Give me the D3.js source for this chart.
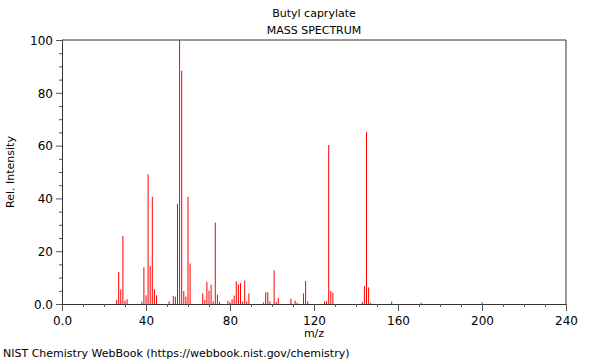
<!DOCTYPE html>
<html lang="en">
<head>
<meta charset="utf-8">
<title>Butyl caprylate</title>
<script src="https://cdn.jsdelivr.net/npm/d3@7"></script>
<style>
  body { margin: 0; background: #fff; }
  svg text { font-family: "DejaVu Sans", sans-serif; fill: #000; }
</style>
</head>
<body>
<div id="chart"></div>
<script>
const W = 600, H = 360;

// peak list
const mz = [26, 27, 28, 29, 30, 31, 38, 39, 40, 41, 42, 43, 44, 45, 51, 53, 54, 55, 56, 57, 58, 59, 60, 61,
  67, 68, 69, 70, 71, 72, 73, 74, 75, 79, 80, 81, 82, 83, 84, 85, 86, 87, 88, 89,
  96, 97, 98, 99, 101, 102, 103, 109, 111, 112, 115, 116, 117, 125, 126, 127, 128, 129,
  143, 144, 145, 146, 147, 157, 171, 200];
const intensity = [1.5, 12.1, 5.5, 25.8, 1.3, 1.8, 0.9, 13.9, 3.3, 49.1, 14.4, 40.6, 5.5, 3.3, 1, 3, 2.8, 37.9, 100, 88.3, 4.9, 2.8, 40.6, 15.3,
  4, 1.5, 8.4, 5, 7.3, 1, 30.8, 3.5, 0.8, 1.2, 0.7, 1.8, 3.2, 8.6, 7.4, 7.9, 1, 8.9, 1, 4,
  0.6, 4.4, 4.5, 1, 12.8, 0.8, 2.3, 2, 1.3, 0.5, 4, 8.7, 1, 1, 1, 60.2, 5, 4.3,
  0.8, 6.8, 65.2, 6.3, 0.5, 0.9, 0.5, 0.7];

const xTicks = [0, 40, 80, 120, 160, 200, 240];
const yTicks = [0, 20, 40, 60, 80, 100];

const margin = {left: 62, right: 34, top: 40, bottom: 56};

const svg = d3.select("#chart").append("svg")
  .attr("width", W).attr("height", H);

const x = d3.scaleLinear().domain([0, 240]).range([margin.left, W - margin.right]);
const y = d3.scaleLinear().domain([0, 100]).range([H - margin.bottom, margin.top]);

const fmt = d => d === 0 ? "0.0" : String(d);

// frame (top + right)
svg.append("path")
  .attr("d", `M${x(0)},${y(100)}H${x(240)}V${y(0)}`)
  .attr("fill", "none").attr("stroke", "#333").attr("stroke-width", 1);

// peaks
svg.append("g").selectAll("line")
  .data(mz.map((m, i) => ({m: m, v: intensity[i]})))
  .enter().append("line")
  .attr("x1", d => x(d.m)).attr("x2", d => x(d.m))
  .attr("y1", y(0)).attr("y2", d => y(d.v))
  .attr("stroke", "#ff0000").attr("stroke-width", 1);

// x axis
const gx = svg.append("g").attr("transform", `translate(0,${y(0)})`);
gx.call(d3.axisBottom(x).tickValues(d3.range(0, 241, 10)).tickSize(3).tickFormat(""));
gx.call(g => g.selectAll(".tick").filter(d => d % 40 === 0).select("line").attr("y2", 7));
gx.selectAll(".tick").filter(d => d % 40 === 0).append("text")
  .attr("y", 21).attr("text-anchor", "middle").attr("font-size", 12)
  .text(fmt);
gx.select(".domain").attr("stroke", "#333");
gx.selectAll(".tick line").attr("stroke", "#555");

// y axis
const gy = svg.append("g").attr("transform", `translate(${x(0)},0)`);
gy.call(d3.axisLeft(y).tickValues(d3.range(0, 101, 5)).tickSize(3).tickFormat(""));
gy.call(g => g.selectAll(".tick").filter(d => d % 20 === 0).select("line").attr("x2", -6));
gy.selectAll(".tick").filter(d => d % 20 === 0).append("text")
  .attr("x", -9).attr("dy", "0.35em").attr("text-anchor", "end").attr("font-size", 12)
  .text(fmt);
gy.select(".domain").attr("stroke", "#333");
gy.selectAll(".tick line").attr("stroke", "#555");
gy.selectAll("text").attr("font-family", "DejaVu Sans, sans-serif").attr("fill", "#000");
gx.selectAll("text").attr("font-family", "DejaVu Sans, sans-serif").attr("fill", "#000");

// titles
const cx = (x(0) + x(240)) / 2;
svg.append("text").attr("x", cx).attr("y", 17).attr("text-anchor", "middle")
  .attr("font-size", 11).text("Butyl caprylate");
svg.append("text").attr("x", cx).attr("y", 34).attr("text-anchor", "middle")
  .attr("font-size", 11).text("MASS SPECTRUM");
svg.append("text").attr("x", cx).attr("y", 337).attr("text-anchor", "middle")
  .attr("font-size", 11).text("m/z");
svg.append("text")
  .attr("transform", `translate(14,${(y(0) + y(100)) / 2}) rotate(-90)`)
  .attr("text-anchor", "middle").attr("font-size", 11).text("Rel. Intensity");
svg.append("text").attr("x", 3).attr("y", 357)
  .attr("font-size", 11).text("NIST Chemistry WebBook (https://webbook.nist.gov/chemistry)");
</script>
</body>
</html>
